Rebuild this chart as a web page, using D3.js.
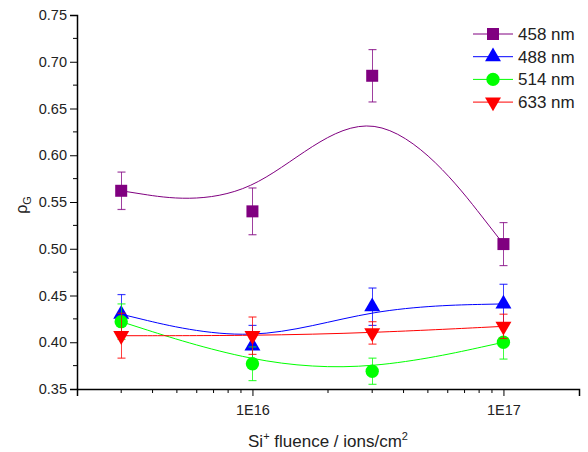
<!DOCTYPE html>
<html><head><meta charset="utf-8">
<script src="https://cdn.jsdelivr.net/npm/d3@7"></script>
<style>body{margin:0;background:#fff}svg{font-family:"Liberation Sans",Arial,sans-serif}</style>
</head><body>
<svg id="c" width="588" height="452"></svg>
<script>
const fluence = [3e15, 1e16, 3e16, 1e17];
const seriesNames = ["458 nm", "488 nm", "514 nm", "633 nm"];
const val458 = [0.562, 0.540, 0.685, 0.505];
const err458 = [0.020, 0.025, 0.028, 0.023];
const val488 = [0.430, 0.396, 0.438, 0.441];
const err488 = [0.021, 0.022, 0.020, 0.021];
const val514 = [0.422, 0.377, 0.369, 0.400];
const err514 = [0.019, 0.018, 0.014, 0.018];
const val633 = [0.407, 0.407, 0.410, 0.417];
const err633 = [0.024, 0.020, 0.012, 0.013];
const colors = ["#800080", "#0000ff", "#00ff00", "#ff0000"];
const shapes = ["square", "triangle", "circle", "triangleDown"];
const yTicks = [0.35, 0.40, 0.45, 0.50, 0.55, 0.60, 0.65, 0.70, 0.75];
const xTicks = [1e16, 1e17];
const xTickLabels = ["1E16", "1E17"];

const series = [
  {name: seriesNames[0], v: val458, e: err458},
  {name: seriesNames[1], v: val488, e: err488},
  {name: seriesNames[2], v: val514, e: err514},
  {name: seriesNames[3], v: val633, e: err633}
];

const svg = d3.select("#c");
const L = 77, R = 579, T = 15, B = 389;
const x = d3.scaleLog().domain([2e15, 2e17]).range([L, R]);
const y = d3.scaleLinear().domain([0.35, 0.75]).range([B, T]);

function sym(shape) {
  if (shape === "square") return d3.symbol().type(d3.symbolSquare).size(144)();
  if (shape === "circle") return d3.symbol().type(d3.symbolCircle).size(140)();
  return d3.symbol().type(d3.symbolTriangle).size(110)();
}
function symTransform(shape, px, py) {
  return shape === "triangleDown" ? `translate(${px},${py}) rotate(180)` : `translate(${px},${py})`;
}

// series
series.forEach((s, i) => {
  const pts = fluence.map((f, j) => [x(f), y(s.v[j])]);
  svg.append("path").attr("d", d3.line().curve(d3.curveBasis)(pts))
    .attr("fill", "none").attr("stroke", colors[i]).attr("stroke-width", 1);
  const g = svg.append("g");
  fluence.forEach((f, j) => {
    g.append("path").attr("d", sym(shapes[i]))
      .attr("transform", symTransform(shapes[i], x(f), y(s.v[j])))
      .attr("fill", colors[i]);
  });
  fluence.forEach((f, j) => {
    const px = Math.round(x(f)) + 0.5;
    const y1 = y(s.v[j] + s.e[j]), y2 = y(s.v[j] - s.e[j]);
    g.append("line").attr("x1", px).attr("x2", px).attr("y1", y1).attr("y2", y2)
      .attr("stroke", colors[i]).attr("stroke-width", 1).attr("opacity", 0.75);
    [y1, y2].forEach(yy => g.append("line").attr("x1", px - 4).attr("x2", px + 4)
      .attr("y1", yy).attr("y2", yy).attr("stroke", colors[i]).attr("stroke-width", 1.2).attr("opacity", 0.75));
  });
});

// y axis
const yAxis = d3.axisLeft(y).tickValues(yTicks).tickFormat(d3.format(".2f")).tickSize(7).tickPadding(3);
const yg = svg.append("g").attr("transform", `translate(${L},0)`).call(yAxis);
yg.select(".domain").attr("stroke", "#000").attr("stroke-width", 1.5);
yg.selectAll("text").attr("font-size", 14.5).attr("fill", "#222");
const yMinor = d3.range(0.375, 0.75, 0.05);
yg.selectAll(".ym").data(yMinor).enter().append("line")
  .attr("x1", -4).attr("x2", 0).attr("y1", d => y(d)).attr("y2", d => y(d)).attr("stroke", "#000");

// x axis
const xAxis = d3.axisBottom(x).tickValues(xTicks).tickFormat((d, i) => xTickLabels[i]).tickSize(7).tickPadding(9);
const xg = svg.append("g").attr("transform", `translate(0,${B})`).call(xAxis);
xg.select(".domain").attr("stroke", "#000").attr("stroke-width", 1.5);
xg.selectAll("text").attr("font-size", 14.5).attr("fill", "#222");
const xMinor = [3e15,4e15,5e15,6e15,7e15,8e15,9e15,2e16,3e16,4e16,5e16,6e16,7e16,8e16,9e16];
xg.selectAll(".xm").data(xMinor).enter().append("line")
  .attr("x1", d => x(d)).attr("x2", d => x(d)).attr("y1", 0).attr("y2", 4).attr("stroke", "#000");

// axis titles
const xt = svg.append("text").attr("x", 328).attr("y", 447).attr("text-anchor", "middle")
  .attr("font-size", 17).attr("fill", "#222");
xt.append("tspan").text("Si");
xt.append("tspan").attr("dy", -7).attr("font-size", 11).text("+");
xt.append("tspan").attr("dy", 7).text(" fluence / ions/cm");
xt.append("tspan").attr("dy", -7).attr("font-size", 11).text("2");

const ytl = svg.append("text").attr("transform", "translate(27,205) rotate(-90)").attr("text-anchor", "middle")
  .attr("font-size", 16).attr("fill", "#222");
ytl.append("tspan").text("ρ");
ytl.append("tspan").attr("dy", 4).attr("font-size", 11).text("G");

// legend
series.forEach((s, i) => {
  const ly = 34 + i * 22.7;
  svg.append("line").attr("x1", 473).attr("x2", 513).attr("y1", ly).attr("y2", ly)
    .attr("stroke", colors[i]).attr("stroke-width", 1);
  svg.append("path").attr("d", sym(shapes[i])).attr("transform", symTransform(shapes[i], 493, ly)).attr("fill", colors[i]);
  svg.append("text").attr("x", 518).attr("y", ly + 6).attr("font-size", 17).attr("fill", "#222").text(s.name);
});
</script>
</body></html>
